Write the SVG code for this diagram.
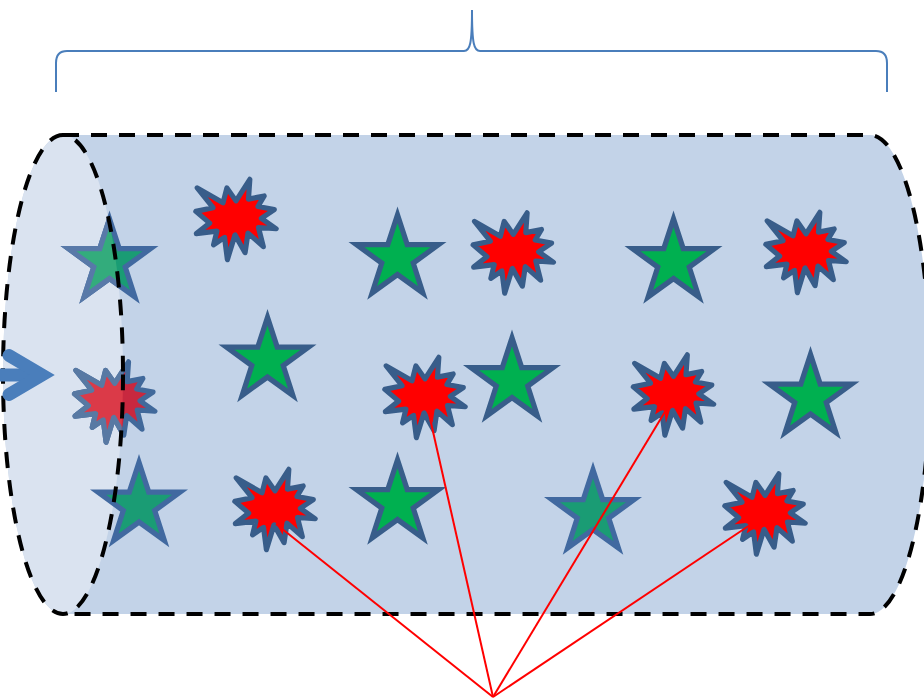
<svg xmlns="http://www.w3.org/2000/svg" xmlns:xlink="http://www.w3.org/1999/xlink" width="924" height="699" viewBox="0 0 924 699">
<style>
.star{fill:#00B050;stroke:#385D8A;stroke-width:5;stroke-linejoin:miter}
.boom{fill:#FF0000;stroke:#385D8A;stroke-width:5;stroke-linejoin:round}
.fstar{fill:#1A9C74;stroke:#4169A0;stroke-width:5}
.fstarL{fill:#33AC7C;stroke:#5879A8;stroke-width:5}
.fboom{fill:#C8283F;stroke:#41699B;stroke-width:5;stroke-linejoin:round}
.fboomL{fill:#DB3A48;stroke:#5879A3;stroke-width:5;stroke-linejoin:round}
.dash{fill:none;stroke:#000;stroke-width:4;stroke-dasharray:16 12}
.brace{fill:none;stroke:#4A7EBB;stroke-width:2}
.ray{stroke:#FF0000;stroke-width:2;fill:none}
</style>
<defs>
<path id="st" transform="scale(1.04)" d="M0,-41.5 L9.35,-12.86 L39.47,-12.82 L15.12,4.91 L24.39,33.57 L0,15.9 L-24.39,33.57 L-15.12,4.91 L-39.47,-12.82 L-9.35,-12.86 Z"/>
<path id="bm" transform="scale(1.03)" d="M0,-18.06 L13.44,-39 L12.11,-19.77 L27.37,-22.91 L21.31,-12.58 L37.18,-9.62 L24.58,-1.17 L39,8.99 L21.8,7.73 L26.52,26.34 L11.63,13.21 L8.84,32.27 L-0.97,14.93 L-8.36,39 L-11.14,17.43 L-21.8,24.62 L-18.54,11.33 L-38.51,13.67 L-25.56,3.52 L-39,-7.89 L-22.29,-11.49 L-37.66,-30.71 L-12.6,-16.18 L-8.84,-30.71 Z"/>
<clipPath id="face"><ellipse cx="63" cy="374.5" rx="60" ry="239.5"/></clipPath>
</defs>

<g id="brace"><path class="brace" d="M56,92 L56,63 Q56,51 67,51 L464,51 C470,51 472,44 472,10 C472,44 474,51 480,51 L876,51 Q887,51 887,63 L887,92"/></g>

<g id="cylinder">
<path d="M63,135 L870,135 A60,239.5 0 0 1 870,614 L63,614 A60,239.5 0 0 1 63,135 Z" fill="#C3D3E8"/>
<ellipse cx="63" cy="374.5" rx="60" ry="239.5" fill="#DAE3F0"/>
</g>

<g id="star1"><use xlink:href="#st" class="fstar" transform="translate(109.5,262)"/><g clip-path="url(#face)"><use xlink:href="#st" class="fstarL" transform="translate(109.5,262)"/></g></g>
<g id="star2"><use xlink:href="#st" class="star" transform="translate(397.5,258)"/></g>
<g id="star3"><use xlink:href="#st" class="star" transform="translate(673.5,262)"/></g>
<g id="star4"><use xlink:href="#st" class="star" transform="translate(267.5,360.5)"/></g>
<g id="star5"><use xlink:href="#st" class="star" transform="translate(512,381)"/></g>
<g id="star6"><use xlink:href="#st" class="star" transform="translate(810.5,397.5)"/></g>
<g id="star7"><use xlink:href="#st" class="fstar" transform="translate(139,505.5)"/></g>
<g id="star8"><use xlink:href="#st" class="star" transform="translate(397.5,503)"/></g>
<g id="star9"><use xlink:href="#st" class="fstar" transform="translate(593,513)"/></g>

<g id="boom1"><use xlink:href="#bm" class="boom" transform="translate(236,219.5)"/></g>
<g id="boom2"><use xlink:href="#bm" class="boom" transform="translate(513.3,253)"/></g>
<g id="boom3"><use xlink:href="#bm" class="boom" transform="translate(806,252.5)"/></g>
<g id="boom4"><use xlink:href="#bm" class="fboom" transform="translate(114.7,402)"/><g clip-path="url(#face)"><use xlink:href="#bm" class="fboomL" transform="translate(114.7,402)"/></g></g>
<g id="boom5"><use xlink:href="#bm" class="boom" transform="translate(425,397.5)"/></g>
<g id="boom6"><use xlink:href="#bm" class="boom" transform="translate(673.5,395)"/></g>
<g id="boom7"><use xlink:href="#bm" class="boom" transform="translate(275,509.5)"/></g>
<g id="boom8"><use xlink:href="#bm" class="boom" transform="translate(765,514)"/></g>

<g id="outline">
<path class="dash" d="M63,135 L870,135 A60,239.5 0 0 1 870,614 L63,614"/>
<ellipse class="dash" cx="63" cy="374.5" rx="60" ry="239.5"/>
</g>

<g id="arrow" fill="none" stroke="#4A7EBB" stroke-width="13" stroke-linecap="round">
<path d="M0,375 L41,375"/>
<path d="M9,355.5 L42,375 L9,394.5" stroke-linejoin="miter"/>
</g>

<g id="connectors">
<line class="ray" x1="493" y1="697" x2="276" y2="524"/>
<line class="ray" x1="493" y1="697" x2="427" y2="405"/>
<line class="ray" x1="493" y1="697" x2="666" y2="410"/>
<line class="ray" x1="493" y1="697" x2="750" y2="525"/>
</g>
</svg>
